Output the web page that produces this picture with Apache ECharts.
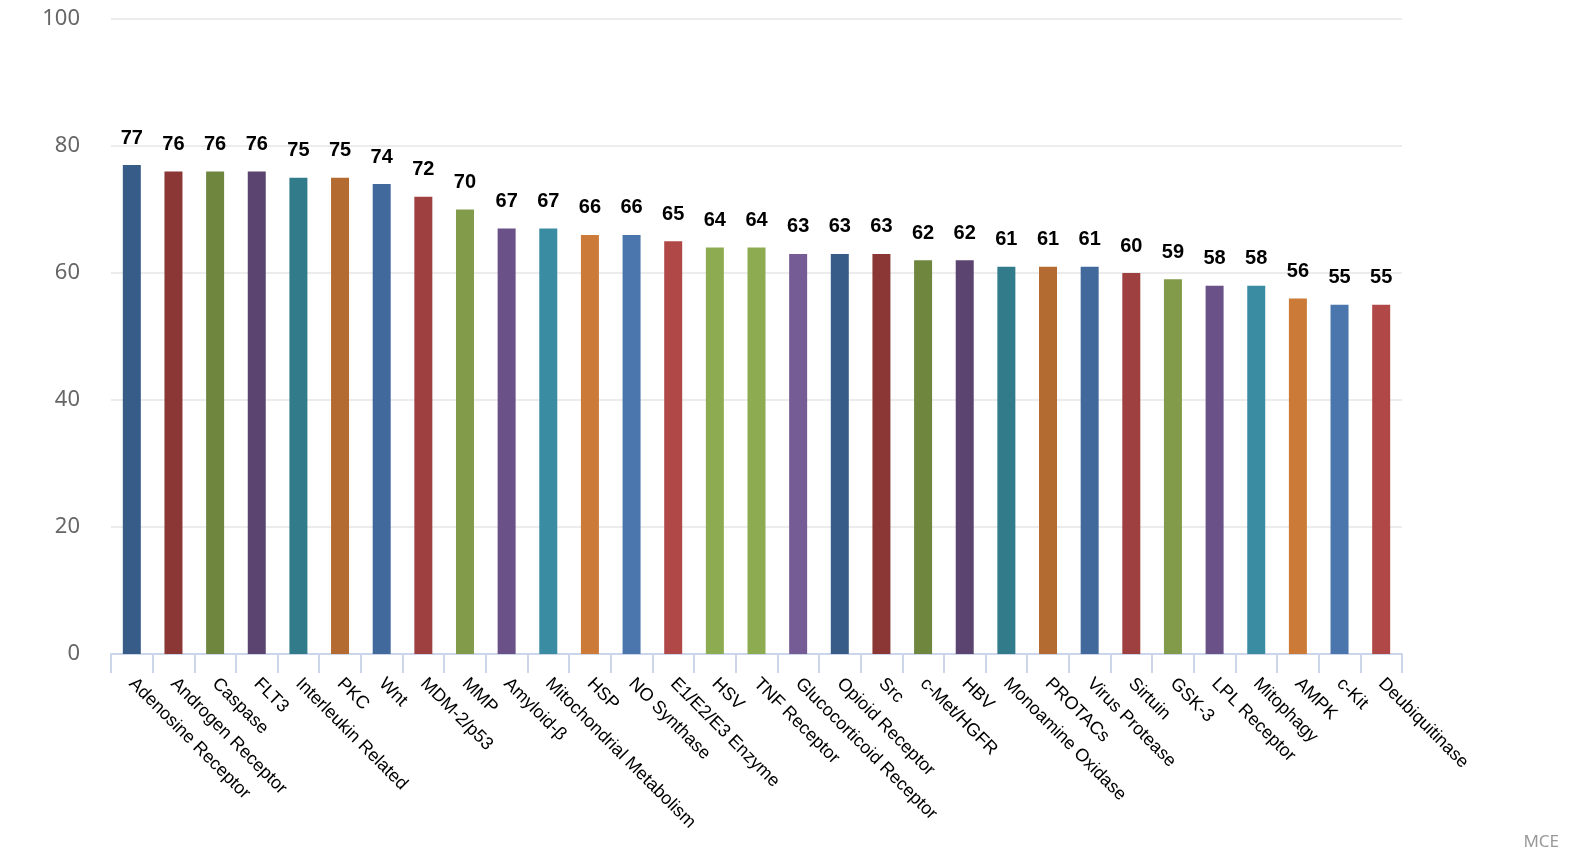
<!DOCTYPE html>
<html>
<head>
<meta charset="utf-8">
<script src="https://cdn.jsdelivr.net/npm/echarts@6/dist/echarts.min.js"></script>
<style>html,body{margin:0;padding:0;background:#fff;}#c{width:1580px;height:860px;}</style>
</head>
<body>
<div id="c"></div>
<script>
const categories = ["Adenosine Receptor","Androgen Receptor","Caspase","FLT3","Interleukin Related","PKC","Wnt","MDM-2/p53","MMP","Amyloid-β","Mitochondrial Metabolism","HSP","NO Synthase","E1/E2/E3 Enzyme","HSV","TNF Receptor","Glucocorticoid Receptor","Opioid Receptor","Src","c-Met/HGFR","HBV","Monoamine Oxidase","PROTACs","Virus Protease","Sirtuin","GSK-3","LPL Receptor","Mitophagy","AMPK","c-Kit","Deubiquitinase"];
const values = [77,76,76,76,75,75,74,72,70,67,67,66,66,65,64,64,63,63,63,62,62,61,61,61,60,59,58,58,56,55,55];
const yTicks = [0,20,40,60,80,100];
const palette = ["#365c87","#8a3735","#6f863e","#5b4570","#327b8b","#b36b31","#41699b","#9e4040","#819b4a","#6a5187","#3a8ca3","#cc7a38","#4a76ad","#b04848","#8dab50","#8dab50","#765c94"];

const chart = echarts.init(document.getElementById('c'));
chart.setOption({
  animation: false,
  backgroundColor: '#ffffff',
  grid: { left: 111, right: 178, top: 19, bottom: 206, containLabel: false },
  xAxis: {
    type: 'category',
    data: categories,
    axisLine: { lineStyle: { color: '#ccd6eb', width: 2 } },
    axisTick: { show: true, length: 19, lineStyle: { color: '#ccd6eb', width: 2 } },
    axisLabel: {
      rotate: -45, interval: 0, margin: 27,
      color: '#000', fontSize: 18, fontFamily: 'Liberation Sans, Arial, sans-serif'
    }
  },
  yAxis: {
    type: 'value', min: yTicks[0], max: yTicks[yTicks.length-1], interval: 20,
    axisLine: { show: false }, axisTick: { show: false },
    splitLine: { lineStyle: { color: '#e6e6e6', width: 1.5 } },
    axisLabel: { margin: 31, color: '#666666', fontSize: 22, fontFamily: 'Noto Sans, sans-serif' }
  },
  series: [{
    type: 'bar',
    data: values.map((v, i) => ({ value: v, itemStyle: { color: palette[i % palette.length] } })),
    barWidth: 18,
    label: {
      show: true, position: 'top', distance: 17,
      color: '#000', fontSize: 20, fontWeight: 'bold', fontFamily: 'Liberation Sans, Arial, sans-serif'
    }
  }],
  graphic: [{
    type: 'text', right: 21, top: 834,
    style: { text: 'MCE', fill: '#999999', fontSize: 17, fontFamily: 'Noto Sans, sans-serif' }
  }]
});
</script>
</body>
</html>
